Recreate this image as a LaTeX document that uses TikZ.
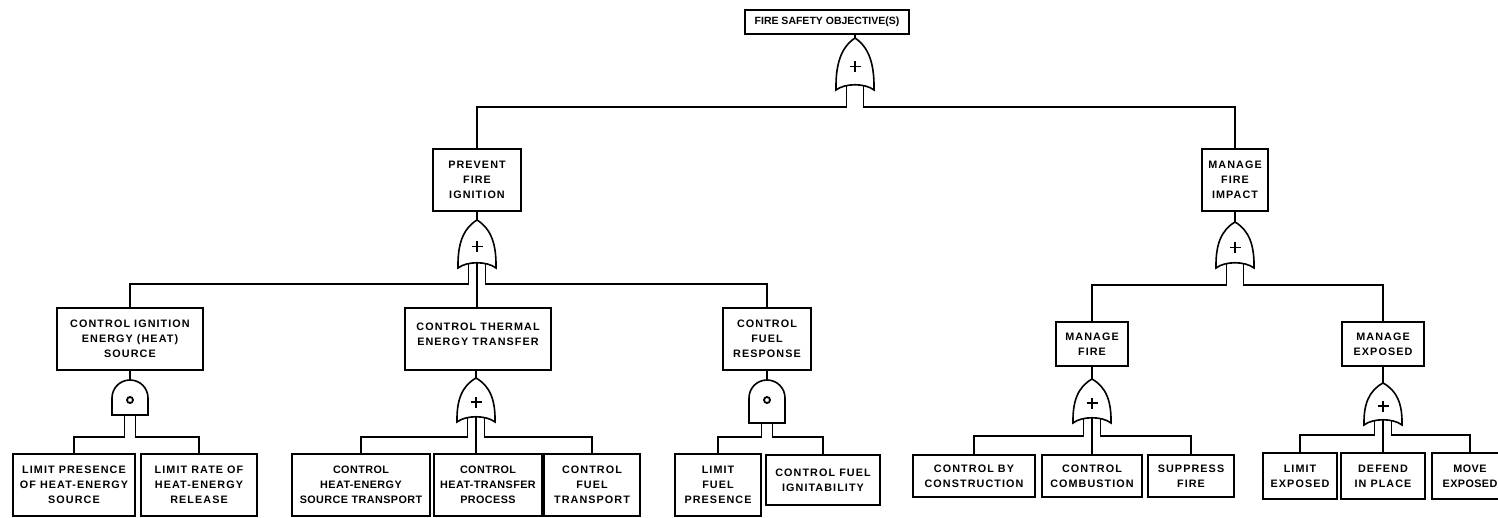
\documentclass[tikz,border=0pt]{standalone}
\usepackage{fontspec}
\setmainfont{Liberation Sans}
\newfontfamily\lblfont[LetterSpace=10]{Liberation Sans}
\newfontfamily\lblfonttight[LetterSpace=4]{Liberation Sans}
\newfontfamily\topfont{Liberation Sans}
\begin{document}
\begin{tikzpicture}[x=1pt,y=-1pt,line width=1.6pt,
  box/.style={draw,line width=1.6pt,align=center,inner sep=0pt,
    font=\lblfont\bfseries\fontsize{10.8}{15}\selectfont},
  tight/.style={font=\lblfonttight\bfseries\fontsize{10.8}{15}\selectfont},
  gate/.style={draw,line width=1.6pt},
  pics/orgate/.style={code={
    \draw[gate] (-19,#1) .. controls (-19.5,{0.5*#1}) and (-14,{0.18*#1}) .. (0,0)
      .. controls (14,{0.18*#1}) and (19.5,{0.5*#1}) .. (19,#1)
      .. controls (10,{#1-7}) and (-10,{#1-7}) .. (-19,#1) -- cycle;
    \draw[line width=1.5pt] (-5.5,{0.55*#1}) -- (5.5,{0.55*#1})
      (0,{0.55*#1-5.5}) -- (0,{0.55*#1+5.5});
    \coordinate (-apex) at (0,0);
    \coordinate (-l) at (-8.5,{#1-4.5});
    \coordinate (-r) at (8.5,{#1-4.5});
    \coordinate (-c) at (0,{#1-5.2});
  }},
  pics/andgate/.style={code={
    \draw[gate] (-18,#1) -- (-18,18) .. controls (-18,8) and (-10,0) .. (0,0)
      .. controls (10,0) and (18,8) .. (18,18) -- (18,#1) -- cycle;
    \draw[line width=1.8pt] (0,20) circle[radius=3pt];
    \coordinate (-apex) at (0,0);
    \coordinate (-l) at (-5.5,#1);
    \coordinate (-r) at (5.5,#1);
  }}]
\fill[white] (0,0) rectangle (1498,517);
\useasboundingbox (0,0) rectangle (1498,517);

\newcommand\bx[7][]{\node[box,#1,minimum width=#5pt,minimum height=#6pt] (#2) at (#3,#4) {#7};}

% top event
\node[box,font=\topfont\bfseries\fontsize{10.5}{15}\selectfont,minimum width=164pt,minimum height=24pt] (top) at (827,22) {FIRE SAFETY OBJECTIVE(S)};

% second level
\bx{prevent}{477}{180}{88}{62}{PREVENT\\FIRE\\IGNITION}
\bx{mfi}{1235}{180}{66}{62}{MANAGE\\FIRE\\IMPACT}

% third level
\bx{cign}{130}{339}{146}{62}{CONTROL IGNITION\\ENERGY (HEAT)\\SOURCE}
\bx{cthe}{478}{339}{146}{62}{CONTROL THERMAL\\ENERGY TRANSFER\\[-6pt]\mbox{}}
\bx{cfr}{767}{339}{88}{62}{CONTROL\\FUEL\\RESPONSE}
\bx{mf}{1092}{344}{72}{44}{MANAGE\\FIRE}
\bx{me}{1383}{344}{82}{44}{MANAGE\\EXPOSED}

% basic events
\bx{b1}{74}{485}{122}{62}{LIMIT PRESENCE\\OF HEAT-ENERGY\\SOURCE}
\bx{b2}{199}{485}{116}{62}{LIMIT RATE OF\\HEAT-ENERGY\\RELEASE}
\bx[tight]{b3}{361}{485}{138}{62}{CONTROL\\HEAT-ENERGY\\SOURCE TRANSPORT}
\bx[tight]{b4}{488}{485}{108}{62}{CONTROL\\HEAT-TRANSFER\\PROCESS}
\bx{b5}{592}{485}{96}{62}{CONTROL\\FUEL\\TRANSPORT}
\bx{b6}{718}{485}{86}{62}{LIMIT\\FUEL\\PRESENCE}
\bx{b7}{823}{480}{114}{50}{CONTROL FUEL\\IGNITABILITY}
\bx{b8}{974}{476}{122}{42}{CONTROL BY\\CONSTRUCTION}
\bx{b9}{1092}{476}{100}{42}{CONTROL\\COMBUSTION}
\bx{b10}{1191}{476}{86}{42}{SUPPRESS\\FIRE}
\bx{b11}{1300}{476}{74}{46}{LIMIT\\EXPOSED}
\bx{b12}{1383}{476}{84}{46}{DEFEND\\IN PLACE}
\bx[tight]{b13}{1470}{476}{76}{46}{MOVE\\EXPOSED}

% gates
\pic (g0) at (855,38) {orgate=52};
\pic (g1) at (477,220) {orgate=48};
\pic (g2) at (1235,222) {orgate=46};
\pic (g3) at (130,380) {andgate=35};
\pic (g4) at (476,378) {orgate=44};
\pic (g5) at (767,380) {andgate=43};
\pic (g6) at (1092,379) {orgate=44};
\pic (g7) at (1383,383) {orgate=42};

% bus levels
\coordinate (bus0) at (0,107);
\coordinate (bus1) at (0,284);
\coordinate (bus2) at (0,285);
\coordinate (bus3) at (0,437);
\coordinate (bus4) at (0,437);
\coordinate (bus5) at (0,437);
\coordinate (bus6) at (0,436);
\coordinate (bus7) at (0,435);

% connectors
\draw (top.south -| g0-apex) -- (g0-apex);
\draw (g0-l) -- (g0-l |- bus0) -| (prevent.north);
\draw (g0-r) -- (g0-r |- bus0) -| (mfi.north);

\draw (prevent.south) -- (g1-apex);
\draw (g1-l) -- (g1-l |- bus1) -| (cign.north);
\draw (g1-r) -- (g1-r |- bus1) -| (cfr.north);
\draw (g1-c) -- (g1-c |- cthe.north);

\draw (mfi.south) -- (g2-apex);
\draw (g2-l) -- (g2-l |- bus2) -| (mf.north);
\draw (g2-r) -- (g2-r |- bus2) -| (me.north);

\draw (cign.south) -- (g3-apex);
\draw (g3-l) -- (g3-l |- bus3) -| (b1.north);
\draw (g3-r) -- (g3-r |- bus3) -| (b2.north);

\draw (cthe.south -| g4-apex) -- (g4-apex);
\draw (g4-l) -- (g4-l |- bus4) -| (b3.north);
\draw (g4-r) -- (g4-r |- bus4) -| (b5.north);
\draw (g4-c) -- (g4-c |- b4.north);

\draw (cfr.south) -- (g5-apex);
\draw (g5-l) -- (g5-l |- bus5) -| (b6.north);
\draw (g5-r) -- (g5-r |- bus5) -| (b7.north);

\draw (mf.south) -- (g6-apex);
\draw (g6-l) -- (g6-l |- bus6) -| (b8.north);
\draw (g6-r) -- (g6-r |- bus6) -| (b10.north);
\draw (g6-c) -- (g6-c |- b9.north);

\draw (me.south) -- (g7-apex);
\draw (g7-l) -- (g7-l |- bus7) -| (b11.north);
\draw (g7-r) -- (g7-r |- bus7) -| (b13.north);
\draw (g7-c) -- (g7-c |- b12.north);
\end{tikzpicture}
\end{document}
